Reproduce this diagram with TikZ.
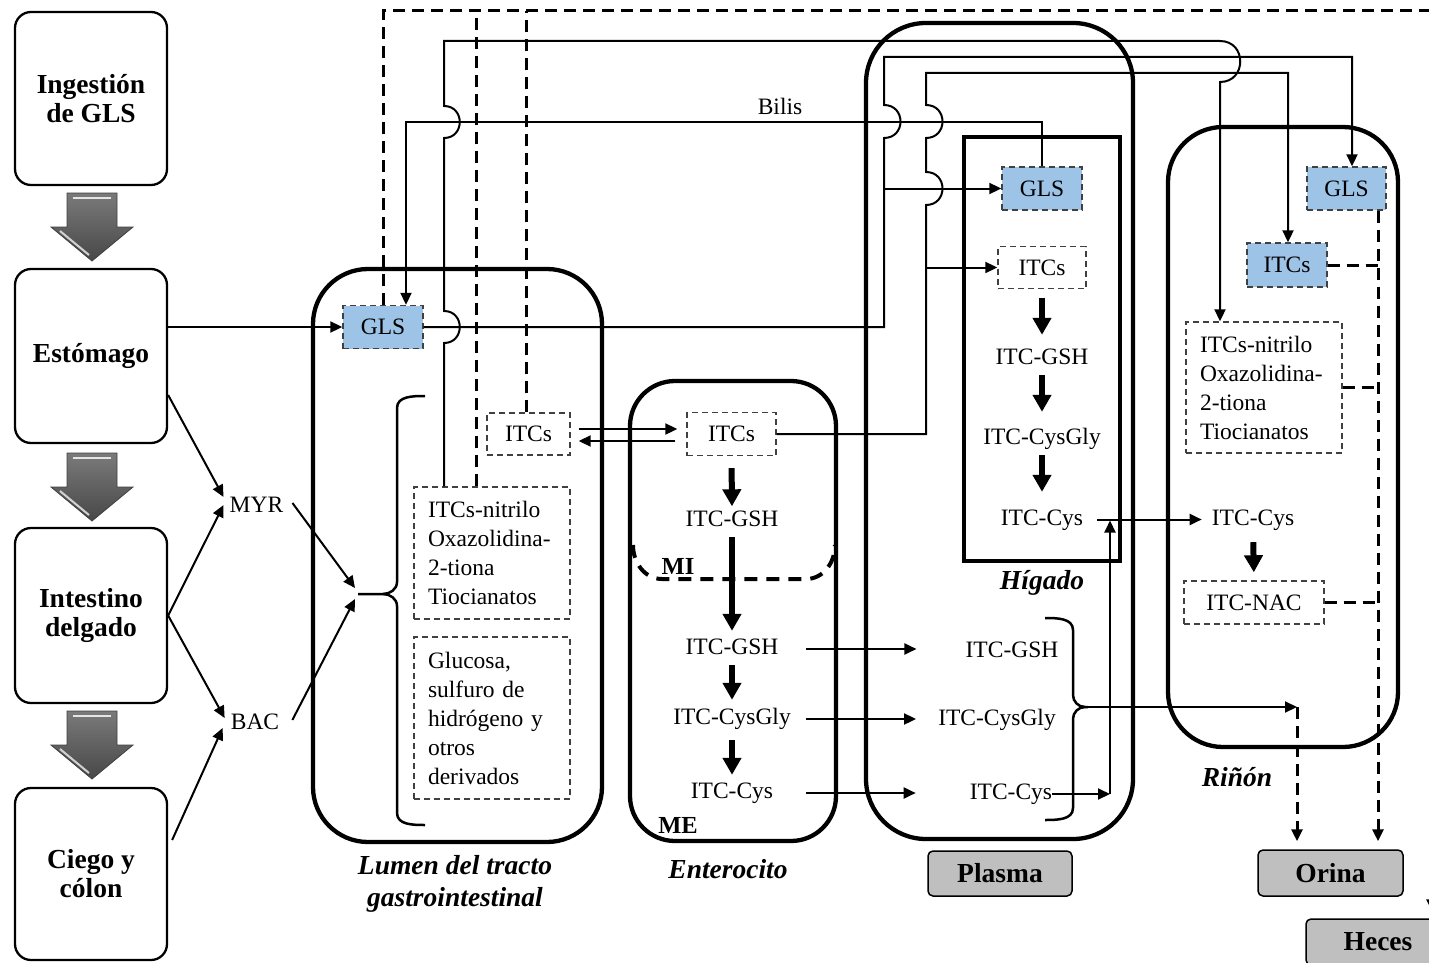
\documentclass[tikz,border=0pt]{standalone}
\usepackage{fontspec}
\setmainfont{Liberation Serif}
\usetikzlibrary{arrows.meta,calc}
\definecolor{glsblue}{RGB}{157,195,230}
\definecolor{boxgray}{RGB}{191,191,191}
\definecolor{dashgray}{RGB}{64,64,64}
\begin{document}
\begin{tikzpicture}[x=1pt,y=-1pt,
  base/.style={font=\fontsize{23.5}{29}\selectfont},
  lbl/.style={base, inner sep=0pt, text height=16pt, text depth=5pt},
  stage/.style={draw, line width=2.3pt, rounded corners=16pt, minimum width=152pt,
    align=center, font=\fontsize{27.5}{29}\selectfont\bfseries},
  region/.style={draw, line width=4.3pt, inner sep=0pt},
  dbox/.style={base, draw=dashgray, dash pattern=on 6pt off 4pt, line width=1.4pt, inner sep=0pt},
  bbox/.style={dbox, fill=glsblue},
  listbox/.style={dbox, align=left, text width=128pt, inner xsep=14pt, minimum width=156pt},
  exitbox/.style={draw, line width=1.5pt, fill=boxgray, rounded corners=5pt,
    minimum width=144pt, minimum height=45pt, font=\fontsize{27.5}{30}\selectfont\bfseries},
  organ/.style={font=\fontsize{27.5}{32}\selectfont\bfseries\itshape, align=center},
  zone/.style={font=\fontsize{24.5}{26}\selectfont\bfseries, inner sep=0pt},
  conn/.style={line width=2pt, -{Triangle[length=12pt,width=11pt]}},
  plain/.style={line width=2pt},
  bracel/.style={line width=2.5pt},
  thk/.style={line width=6pt, -{Triangle[length=17pt,width=18pt]}},
  dline/.style={line width=3pt, dash pattern=on 12pt off 7pt},
  dconn/.style={dline, -{Triangle[length=12pt,width=11pt]}},
  blockarrow/.pic={
    \shade[top color=black!52, bottom color=black!72, draw=black!75, line width=0.8pt]
      (-25,0) -- (25,0) -- (25,34) -- (41,34) -- (0,68) -- (-41,34) -- (-25,34) -- cycle;
    \draw[white!80!gray, line width=2.5pt] (-19,5) -- (19,5);
    \draw[white!65!gray, line width=2pt] (-32,38) -- (-3,62);
  }
]
\useasboundingbox (0,0) rectangle (1429,963);
\clip (0,0) rectangle (1429,963);

% ---------- digestive stages ----------
\node[stage, minimum height=173pt] (ing) at (91,98.5) {Ingestión\\de GLS};
\node[stage, minimum height=174pt] (est) at (91,356) {Estómago};
\node[stage, minimum height=175pt] (int) at (91,615.5) {Intestino\\delgado};
\node[stage, minimum height=172pt] (cie) at (91,874) {Ciego y\\cólon};
\pic at (92,193) {blockarrow};
\pic at (92,453) {blockarrow};
\pic at (92,711) {blockarrow};

\node[lbl, inner xsep=6pt] (myr) at (256.5,507) {MYR};
\node[lbl, inner xsep=6pt] (bac) at (255,724) {BAC};

% ---------- compartments ----------
\node[region, rounded corners=55pt, minimum width=289pt, minimum height=573pt] (lumen) at (457.5,555.5) {};
\node[region, rounded corners=45pt, minimum width=206pt, minimum height=460pt] (entero) at (733,611) {};
\node[region, rounded corners=60pt, minimum width=267pt, minimum height=816pt] (plasma) at (999.5,431) {};
\node[region, minimum width=156pt, minimum height=424pt] (higado) at (1042,349) {};
\node[region, rounded corners=55pt, minimum width=230pt, minimum height=620pt] (rinon) at (1283,437) {};

\node[organ] (lumenlab) at (455,884) {Lumen del tracto\\gastrointestinal};
\node[organ] (enterolab) at (728,869) {Enterocito};
\node[organ] (higadolab) at (1042,583) {Hígado};
\node[organ] (rinonlab) at (1237,777) {Riñón};

\node[exitbox] (plasmab) at (1000,873.5) {Plasma};
\node[exitbox, minimum height=46pt, minimum width=145pt] (orina) at (1330.5,873) {Orina};
\node[exitbox, minimum height=46pt] (heces) at (1378,942) {Heces};

% ---------- lumen ----------
\node[bbox, minimum width=80pt, minimum height=43pt] (glsL) at (383,327) {GLS};
\node[dbox, minimum width=83pt, minimum height=42pt] (itcL) at (528.5,434) {ITCs};
\node[listbox, minimum height=132pt] (nitL) at (492,553) {ITCs-nitrilo\\Oxazolidina-\\2-tiona\\Tiocianatos};
\node[listbox, minimum height=162pt] (gluL) at (492,718) {Glucosa,\\sulfuro de\\hidrógeno y\\otros\\derivados};

% ---------- enterocyte ----------
\node[dbox, minimum width=89pt, minimum height=43pt] (itcE) at (731.5,434) {ITCs};
\node[lbl] (gsh1) at (732,521) {ITC-GSH};
\node[lbl] (gsh2) at (732,649) {ITC-GSH};
\node[lbl] (cysgly) at (732,719) {ITC-CysGly};
\node[lbl] (cys) at (732,793) {ITC-Cys};
\node[zone] (mi) at (678,566) {MI};
\node[zone] (me) at (678,825) {ME};
\draw[line width=4pt, dash pattern=on 13pt off 9pt]
  (633,545) to[out=-90,in=180] (662,579) -- (806,579) to[out=0,in=-90] (835,545);

% ---------- plasma ----------
\node[lbl] (pgsh) at (1012,652) {ITC-GSH};
\node[lbl] (pcysgly) at (997,720) {ITC-CysGly};
\node[lbl] (pcys) at (1011,794) {ITC-Cys};

% ---------- liver ----------
\node[bbox, minimum width=80pt, minimum height=43pt] (glsH) at (1042,188.5) {GLS};
\node[dbox, minimum width=88pt, minimum height=42pt] (itcH) at (1042,267.5) {ITCs};
\node[lbl] (hgsh) at (1042,359) {ITC-GSH};
\node[lbl] (hcysgly) at (1042,439) {ITC-CysGly};
\node[lbl] (hcys) at (1042,519.5) {ITC-Cys};

% ---------- kidney ----------
\node[bbox, minimum width=79pt, minimum height=43pt] (glsR) at (1346.5,188.5) {GLS};
\node[bbox, minimum width=80pt, minimum height=44pt] (itcR) at (1287,265) {ITCs};
\node[listbox, minimum height=131pt] (nitR) at (1264,387.5) {ITCs-nitrilo\\Oxazolidina-\\2-tiona\\Tiocianatos};
\node[lbl] (rcys) at (1253,519.5) {ITC-Cys};
\node[dbox, minimum width=140pt, minimum height=43pt] (nac) at (1254,602.5) {ITC-NAC};

\node[lbl] (bilis) at (780,109) {Bilis};

% ---------- routing columns and rows ----------
\coordinate (xA) at (444,0);
\coordinate (xB) at (884,0);
\coordinate (xC) at (926,0);
\coordinate (xAR) at (1220,0);
\coordinate (xBR) at (1352,0);
\coordinate (xCR) at (1288,0);
\coordinate (xBil) at (406,0);
\coordinate (xD1) at (383,0);
\coordinate (xD2) at (476,0);
\coordinate (xD3) at (526,0);
\coordinate (xEnd) at (1432,0);
\coordinate (xJ) at (1110,0);
\coordinate (xU) at (1297,0);
\coordinate (xK) at (1378,0);
\coordinate (topY) at (0,11);
\coordinate (bilY) at (0,122);
\coordinate (brL) at (358,594);
\coordinate (brP) at (1088,707);

% ---------- left side arrows ----------
\draw[conn] ($(est.east)+(0,39)$) -- ($(myr.west)+(0,-10)$);
\draw[conn] (int.east) -- ($(myr.west)+(0,-2)$);
\draw[conn] (int.east) -- ($(bac.west)+(0,-6)$);
\draw[conn] ($(cie.east)+(4,-34)$) -- ($(bac.west)+(-2,4)$);
\draw[conn] ($(myr.east)+(3,-4)$) -- ($(brL)+(-3,-6)$);
\draw[conn] ($(bac.east)+(7,-4)$) -- ($(brL)+(-3,5)$);
\draw[conn] (est.east |- glsL.west) -- (glsL.west);

% brace in the lumen
\draw[bracel] (425,396) to[out=180,in=90] (397,408) -- (397,582) to[out=-90,in=0] (383,594) -- (brL);
\draw[bracel] (383,594) to[out=0,in=90] (397,606) -- (397,813) to[out=-90,in=180] (425,825);

% ---------- faecal route (dashed, top) ----------
\draw[dconn, shorten >=7pt] (xD1 |- glsL.north) -- (xD1 |- topY) -- (xEnd |- topY) -- (xEnd |- heces.north);
\draw[dline] (xD2 |- nitL.north) -- (xD2 |- topY);
\draw[dline] (xD3 |- itcL.north) -- (xD3 |- topY);

% ---------- lumen ITCs-nitrilo to kidney ----------
\draw[conn] (xA |- nitL.north) -- (444,343) .. controls (465,343) and (465,311) .. (444,311)
  -- (444,138) .. controls (465,138) and (465,106) .. (444,106)
  -- (444,41) -- (1220,41) .. controls (1247,41) and (1247,82) .. (1220,82)
  -- (xAR |- nitR.north);

% ---------- GLS to liver and kidney ----------
\draw[conn] (glsL.east) -- (xB |- glsL.east)
  -- (884,138) .. controls (906,138) and (906,105) .. (884,105)
  -- (884,57) -- (xBR |- 0,57) -- (xBR |- glsR.north);
\draw[conn] (xB |- glsH.west) -- (glsH.west);

% ---------- bile ----------
\draw[conn] (glsH.north) -- (glsH.north |- bilY) -- (xBil |- bilY) -- (xBil |- glsL.north);

% ---------- enterocyte ITCs to liver and kidney ----------
\draw[conn] (itcE.east) -- (xC |- itcE.east)
  -- (926,205) .. controls (948,205) and (948,172) .. (926,172)
  -- (926,138) .. controls (948,138) and (948,105) .. (926,105)
  -- (926,73) -- (xCR |- 0,73) -- (xCR |- itcR.north);
\draw[conn] (xC |- itcH.west) -- (itcH.west);

% ---------- lumen <-> enterocyte ----------
\draw[conn] ($(itcL.east)+(8,-5)$) -- ($(itcE.west)+(-9,-5)$);
\draw[conn] ($(itcE.west)+(-11,7)$) -- ($(itcL.east)+(8,7)$);

% ---------- conjugation steps ----------
\draw[thk, shorten <=12pt, shorten >=4pt] (itcE.south) -- (gsh1.north);
\draw[thk, shorten <=5.5pt, shorten >=7.5pt] (gsh1.south) -- (gsh2.north);
\draw[thk, shorten <=5.5pt, shorten >=8.5pt] (gsh2.south) -- (cysgly.north);
\draw[thk, shorten <=10.5pt, shorten >=7.5pt] (cysgly.south) -- (cys.north);

\draw[thk, shorten <=8.5pt, shorten >=13.5pt] (itcH.south) -- (hgsh.north);
\draw[thk, shorten <=5.5pt, shorten >=16.5pt] (hgsh.south) -- (hcysgly.north);
\draw[thk, shorten <=5.5pt, shorten >=17pt] (hcysgly.south) -- (hcys.north);
\draw[thk, shorten <=12pt, shorten >=8pt] (rcys.south) -- (nac.north);

% ---------- enterocyte to plasma ----------
\draw[conn, shorten <=27pt, shorten >=49pt] (gsh2.east) -- (gsh2.east -| pgsh.west);
\draw[conn, shorten <=15pt, shorten >=22pt] (cysgly.east) -- (cysgly.east -| pcysgly.west);
\draw[conn, shorten <=33pt, shorten >=54pt] (cys.east) -- (cys.east -| pcys.west);

% ---------- plasma / liver to kidney ----------
\draw[conn] (pcys.east) -- (xJ |- pcys.east);
\draw[conn, shorten >=1pt] (xJ |- pcys.east) -- (xJ |- hcys.east);
\draw[conn, shorten <=14pt, shorten >=10pt] (hcys.east) -- (rcys.west);

% brace in plasma
\draw[bracel] (1045,618) to[out=0,in=90] (1073,630) -- (1073,695) to[out=-90,in=180] (1085,707) -- (brP);
\draw[bracel] (1085,707) to[out=180,in=90] (1073,719) -- (1073,808) to[out=-90,in=0] (1045,820);
\draw[conn] (brP) -- (xU |- brP);
\draw[dconn, shorten >=8pt] (xU |- brP) -- (xU |- orina.north);

% ---------- kidney excretion ----------
\draw[dconn, shorten >=8pt] (xK |- glsR.south) -- (xK |- orina.north);
\draw[dline] (itcR.east) -- (xK |- itcR.east);
\draw[dline] (nitR.east) -- (xK |- nitR.east);
\draw[dline] (nac.east) -- (xK |- nac.east);

\end{tikzpicture}
\end{document}
